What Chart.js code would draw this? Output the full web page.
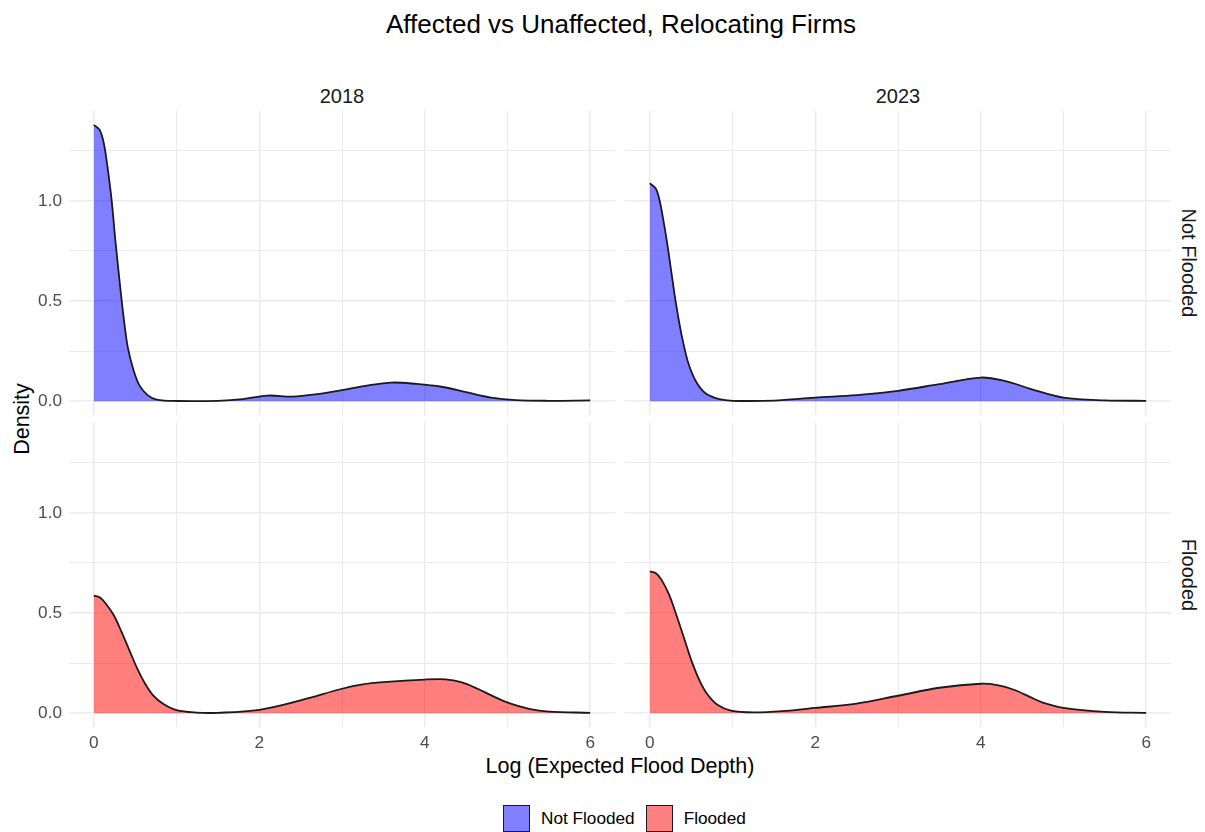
<!DOCTYPE html>
<html>
<head>
  <meta charset="UTF-8" />
  <title>Affected vs Unaffected, Relocating Firms</title>
  <script src="https://cdn.jsdelivr.net/npm/chart.js"></script>
  <style>
    body {
      margin: 0;
      width: 1205px;
      height: 832px;
      position: relative;
      background: white;
      font-family: "Liberation Sans", Arial, sans-serif;
      overflow: hidden;
    }
    .panel { position: absolute; }
    .txt { position: absolute; white-space: nowrap; }
    .title { font-size: 26px; color: #000; left: 621px; top: 24px; transform: translate(-50%, -50%); }
    .strip { font-size: 20px; color: #1a1a1a; transform: translate(-50%, -50%); }
    .strip.rot { transform: translate(-50%, -50%) rotate(90deg); }
    .axtitle { font-size: 21.5px; color: #000; transform: translate(-50%, -50%); }
    .legend { position: absolute; top: 805px; left: 503px; display: flex; align-items: center; font-size: 17.2px; color: #000; }
    .legend .box { width: 25px; height: 25px; border: 1.5px solid #1a1a1a; margin-right: 11px; }
    .legend span { margin-right: 11px; }
  </style>
</head>
<body>
  <div class="txt title">Affected vs Unaffected, Relocating Firms</div>
  <div class="txt strip" style="left:342px; top:96px;">2018</div>
  <div class="txt strip" style="left:898px; top:96px;">2023</div>
  <div class="txt strip rot" style="left:1188px; top:263px;">Not Flooded</div>
  <div class="txt strip rot" style="left:1188px; top:575px;">Flooded</div>
  <div class="txt axtitle" style="left:22px; top:419px; transform: translate(-50%, -50%) rotate(-90deg);">Density</div>
  <div class="txt axtitle" style="left:620px; top:766px;">Log (Expected Flood Depth)</div>

  <div class="panel" style="left:0; top:111px; width:615px; height:304px;"><canvas id="tl"></canvas></div>
  <div class="panel" style="left:625px; top:111px; width:546px; height:304px;"><canvas id="tr"></canvas></div>
  <div class="panel" style="left:0; top:423px; width:615px; height:334px;"><canvas id="bl"></canvas></div>
  <div class="panel" style="left:625px; top:423px; width:546px; height:334px;"><canvas id="br"></canvas></div>

  <div class="legend">
    <div class="box" style="background:#8080ff"></div><span>Not Flooded</span>
    <div class="box" style="background:#ff8080"></div><span>Flooded</span>
  </div>

  <script>
    // tick values
    const xTicks = [0, 1, 2, 3, 4, 5, 6];
    const xLabeled = [0, 2, 4, 6];
    const yTicks = [0, 0.25, 0.5, 0.75, 1.0, 1.25];
    const yLabeled = [0, 0.5, 1.0];

    // 2018, not flooded
    const x2018NF = [0, 0.07, 0.12, 0.17, 0.215, 0.26, 0.31, 0.36, 0.41, 0.48, 0.55, 0.65, 0.76, 1.0, 1.5, 1.8, 2.1, 2.4, 2.7, 3.0, 3.3, 3.6, 3.9, 4.2, 4.5, 4.8, 5.1, 5.5, 6.0];
    const d2018NF = [1.38, 1.355, 1.29, 1.155, 1.005, 0.805, 0.605, 0.42, 0.27, 0.155, 0.08, 0.03, 0.008, 0.001, 0.002, 0.01, 0.028, 0.023, 0.035, 0.055, 0.078, 0.093, 0.086, 0.072, 0.045, 0.018, 0.005, 0.002, 0.004];

    // 2023, not flooded
    const x2023NF = [0, 0.07, 0.117, 0.163, 0.21, 0.257, 0.303, 0.35, 0.397, 0.467, 0.56, 0.677, 0.84, 1.0, 1.5, 2.0, 2.5, 3.0, 3.5, 4.0, 4.3, 4.6, 5.0, 5.5, 6.0];
    const d2023NF = [1.088, 1.063, 1.005, 0.905, 0.788, 0.655, 0.522, 0.405, 0.305, 0.188, 0.097, 0.038, 0.01, 0.002, 0.003, 0.018, 0.03, 0.052, 0.085, 0.118, 0.1, 0.062, 0.018, 0.004, 0.002];

    // 2018, flooded
    const x2018F = [0, 0.07, 0.143, 0.24, 0.335, 0.43, 0.526, 0.62, 0.717, 0.837, 1.0, 1.24, 1.5, 2.0, 2.5, 3.0, 3.25, 3.5, 4.0, 4.25, 4.44, 4.64, 4.83, 5.02, 5.26, 5.5, 6.0];
    const d2018F = [0.587, 0.579, 0.548, 0.49, 0.406, 0.314, 0.222, 0.147, 0.089, 0.047, 0.015, 0.003, 0.002, 0.017, 0.064, 0.122, 0.144, 0.155, 0.168, 0.169, 0.155, 0.122, 0.084, 0.05, 0.022, 0.008, 0.002];

    // 2023, flooded
    const x2023F = [0, 0.07, 0.14, 0.233, 0.327, 0.42, 0.514, 0.607, 0.7, 0.817, 0.98, 1.26, 1.6, 2.0, 2.5, 3.0, 3.5, 4.0, 4.2, 4.4, 4.6, 4.75, 5.0, 5.5, 6.0];
    const d2023F = [0.708, 0.70, 0.667, 0.592, 0.483, 0.367, 0.25, 0.158, 0.092, 0.042, 0.013, 0.004, 0.01, 0.026, 0.048, 0.087, 0.127, 0.147, 0.14, 0.117, 0.08, 0.053, 0.027, 0.007, 0.002];

    const blueFill = 'rgba(0, 0, 255, 0.5)';
    const redFill = 'rgba(255, 0, 0, 0.5)';
    const gridColor = '#ebebeb';

    function isMajor(v, list) {
      return list.some(t => Math.abs(t - v) < 1e-9);
    }

    function makePanel(id, xs, ys, fillColor, showY, showX) {
      const pts = xs.map((x, i) => ({ x: x, y: ys[i] }));
      new Chart(document.getElementById(id), {
        type: 'line',
        data: {
          datasets: [{
            data: pts,
            backgroundColor: fillColor,
            borderColor: '#1a1a1a',
            borderWidth: 1.8,
            fill: 'origin',
            pointRadius: 0,
            tension: 0.35
          }]
        },
        options: {
          responsive: true,
          maintainAspectRatio: false,
          animation: false,
          layout: { padding: 0 },
          plugins: {
            legend: { display: false },
            tooltip: { enabled: false }
          },
          scales: {
            x: {
              type: 'linear',
              min: -0.3,
              max: 6.3,
              border: { display: false },
              grid: {
                color: gridColor,
                drawTicks: false,
                lineWidth: ctx => isMajor(ctx.tick.value, xLabeled) ? 1.5 : 1
              },
              afterBuildTicks: s => { s.ticks = xTicks.map(v => ({ value: v })); },
              ticks: {
                display: showX,
                padding: 6,
                color: '#4d4d4d',
                font: { family: 'Liberation Sans', size: 17.2 },
                callback: v => isMajor(v, xLabeled) ? String(v) : ''
              },
              afterFit: s => {
                s.height = showX ? 30 : 0;
                s.paddingLeft = 0; s.paddingRight = 0;
              }
            },
            y: {
              type: 'linear',
              min: -0.069,
              max: 1.449,
              border: { display: false },
              grid: {
                color: gridColor,
                drawTicks: false,
                lineWidth: ctx => isMajor(ctx.tick.value, yLabeled) ? 1.5 : 1
              },
              afterBuildTicks: s => { s.ticks = yTicks.map(v => ({ value: v })); },
              ticks: {
                display: showY,
                padding: 7,
                color: '#4d4d4d',
                font: { family: 'Liberation Sans', size: 17.2 },
                callback: v => isMajor(v, yLabeled) ? v.toFixed(1) : ''
              },
              afterFit: s => {
                s.width = showY ? 69 : 0;
                s.paddingTop = 0; s.paddingBottom = 0;
              }
            }
          }
        }
      });
    }

    makePanel('tl', x2018NF, d2018NF, blueFill, true, false);
    makePanel('tr', x2023NF, d2023NF, blueFill, false, false);
    makePanel('bl', x2018F, d2018F, redFill, true, true);
    makePanel('br', x2023F, d2023F, redFill, false, true);
  </script>
</body>
</html>
